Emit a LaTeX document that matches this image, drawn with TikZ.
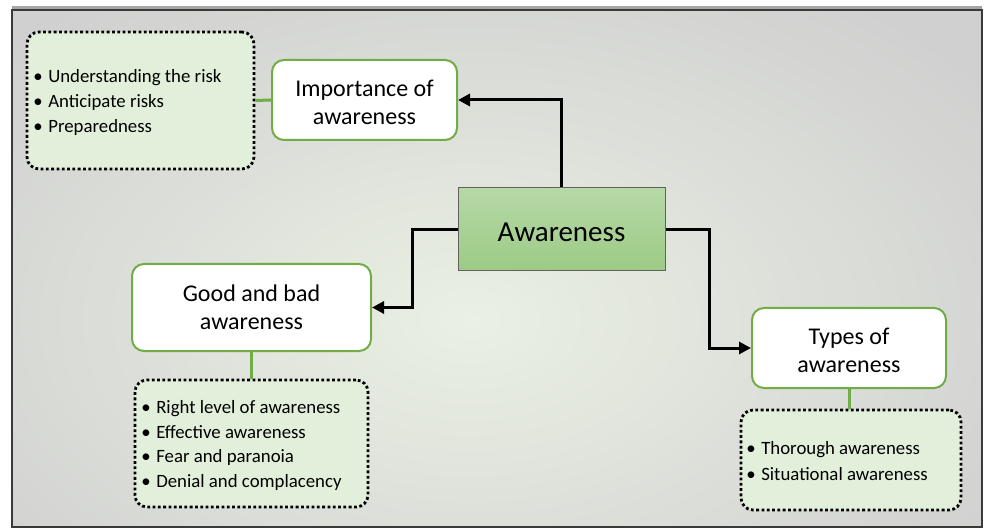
\documentclass[tikz,border=0pt]{standalone}
\usepackage{fontspec}
\setmainfont{Carlito}
\usetikzlibrary{arrows.meta,calc}
\definecolor{bgin}{HTML}{EAF0E3}
\definecolor{bgout}{HTML}{D0D0D0}
\definecolor{lgreen}{HTML}{E2EFDA}
\definecolor{bgreen}{HTML}{70AD47}
\definecolor{awtop}{HTML}{B6D8A6}
\definecolor{awbot}{HTML}{9CCB85}
\definecolor{framec}{HTML}{3A3A3A}
\newcommand{\bitem}[1]{\makebox[15pt][l]{\textbullet}#1}
\newcommand{\upstrut}{\rule{0pt}{22pt}}
\tikzset{
 listbox/.style={draw=black, line width=2.8pt, dash pattern=on 2.8pt off 2.5pt, fill=lgreen, rounded corners=12pt, inner sep=0pt},
 topicbox/.style={draw=bgreen, line width=2pt, fill=white, rounded corners=12pt, inner sep=0pt, align=center, font=\fontsize{24}{28}\selectfont},
 listtext/.style={anchor=west, inner sep=0pt, align=left, font=\fontsize{18.8}{24.8}\selectfont},
 arr/.style={line width=3pt, -{Triangle[length=12pt,width=12pt]}},
 link/.style={draw=bgreen, line width=3pt},
}
\begin{document}
\begin{tikzpicture}[x=1pt,y=-1pt]
\useasboundingbox (0,0) rectangle (985,529);
\fill[white] (0,0) rectangle (985,529);
% background
\begin{scope}
\clip (12,10) rectangle (982,527);
\fill[bgout] (12,10) rectangle (982,527);
\shade[inner color=bgin, outer color=bgout] (470,320) ellipse [x radius=640pt, y radius=400pt];
\end{scope}
\draw[line width=3pt, gray!70] (12,7.5) -- (982,7.5);
\draw[line width=2pt, framec] (12,10) rectangle (982,527);

% central node
\node[draw=framec!80, line width=1pt, top color=awtop, bottom color=awbot, minimum width=207pt, minimum height=83pt, inner sep=0pt, text height=25pt, text depth=0pt, font=\fontsize{29}{34}\selectfont] (aw) at (561.5,229.5) {Awareness};

% topic boxes
\node[topicbox, minimum width=185pt, minimum height=80pt] (imp) at (364.5,100) {\upstrut Importance of\\awareness};
\node[topicbox, minimum width=239pt, minimum height=87pt] (good) at (251.5,307.5) {Good and bad\\awareness};
\node[topicbox, minimum width=194pt, minimum height=80pt] (types) at (849,348) {\upstrut Types of\\awareness};

% list boxes
\node[listbox, minimum width=227pt, minimum height=137pt] (l1) at (140.5,100.5) {};
\node[listbox, minimum width=233pt, minimum height=127pt] (l2) at (251.5,443.5) {};
\node[listbox, minimum width=220pt, minimum height=100pt] (l3) at (851,460) {};

\node[listtext] (t1) at ($(l1.west)+(7.5,2)$) {\bitem{Understanding the risk}\\\bitem{Anticipate risks}\\\bitem{Preparedness}};
\node[listtext] (t2) at ($(l2.west)+(7.5,2)$) {\bitem{Right level of awareness}\\\bitem{Effective awareness}\\\bitem{Fear and paranoia}\\\bitem{Denial and complacency}};
\node[listtext, font=\fontsize{18.8}{26}\selectfont] (t3) at ($(l3.west)+(6.5,1.5)$) {\bitem{Thorough awareness}\\\bitem{Situational awareness}};

% green links
\draw[link] (l1.east) -- (imp.west);
\draw[link] (good.south) -- (good.south |- l2.north);
\draw[link] (types.south) -- (types.south |- l3.north);

% arrows
\draw[arr] (aw.north) |- (imp.east);
\draw[arr] (aw.west) -- ++(-45,0) |- (good.east);
\draw[arr] (aw.east) -- ++(44,0) |- (types.west);
\end{tikzpicture}
\end{document}
